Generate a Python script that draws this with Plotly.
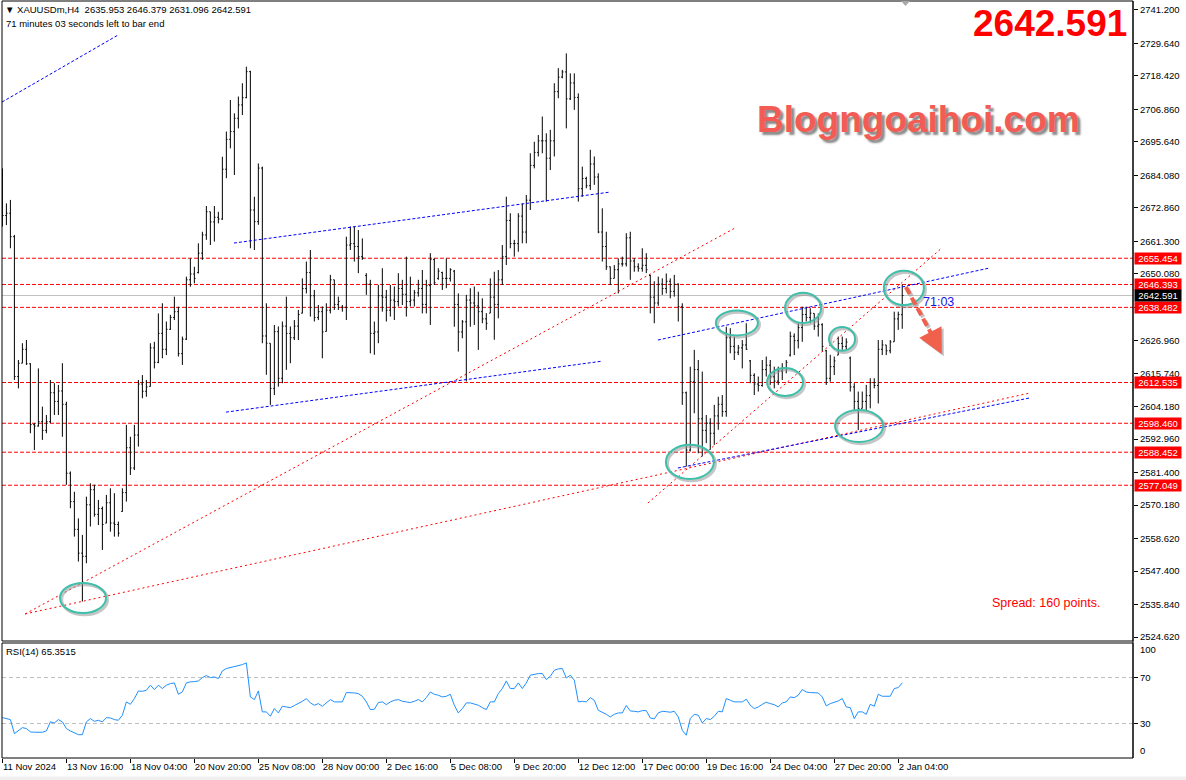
import plotly.graph_objects as go

# ---------------- data (XAUUSDm H4, bar index 0 = 11 Nov 2024 00:00) ----------------
tick_bars = [0, 16, 32, 48, 64, 80, 96, 112, 128, 144, 160, 176, 192, 208, 224]
tick_labels = ["11 Nov 2024", "13 Nov 16:00", "18 Nov 04:00", "20 Nov 20:00", "25 Nov 08:00",
               "28 Nov 00:00", "2 Dec 16:00", "5 Dec 08:00", "9 Dec 20:00", "12 Dec 12:00",
               "17 Dec 00:00", "19 Dec 16:00", "24 Dec 04:00", "27 Dec 20:00", "2 Jan 04:00"]

bar_open = [
    2684.0, 2670.2, 2671.0, 2662.9, 2614.6, 2619.2, 2624.0, 2619.0, 2598.0, 2597.5,
    2599.0, 2596.0, 2599.0, 2609.0, 2606.0, 2609.6, 2605.0, 2581.2, 2571.4, 2561.8,
    2553.6, 2552.5, 2570.3, 2575.5, 2567.0, 2569.0, 2564.0, 2571.0, 2564.0, 2563.5,
    2568.0, 2574.5, 2590.0, 2583.0, 2594.4, 2612.0, 2609.5, 2611.2, 2624.5, 2619.5,
    2629.5, 2624.0, 2630.9, 2635.0, 2637.0, 2622.5, 2627.5, 2648.0, 2650.0, 2650.5,
    2657.2, 2663.5, 2671.5, 2668.0, 2669.6, 2669.0, 2686.2, 2696.5, 2699.2, 2703.8,
    2708.4, 2710.9, 2719.9, 2672.1, 2668.1, 2686.6, 2628.6, 2626.1, 2610.5, 2630.1,
    2614.0, 2632.0, 2629.5, 2628.0, 2632.0, 2636.5, 2645.0, 2650.5, 2642.5, 2635.0,
    2637.0, 2630.2, 2637.5, 2648.0, 2639.5, 2638.5, 2638.5, 2660.0, 2660.5, 2659.5,
    2656.0, 2649.5, 2646.5, 2629.5, 2630.0, 2642.5, 2642.0, 2637.5, 2641.0, 2640.5,
    2645.0, 2643.0, 2640.5, 2641.0, 2643.5, 2645.0, 2639.5, 2646.0, 2655.0, 2648.5,
    2650.5, 2648.5, 2648.5, 2651.0, 2639.5, 2630.0, 2633.5, 2641.0, 2640.0, 2639.0,
    2637.0, 2634.5, 2636.5, 2642.0, 2639.5, 2648.0, 2656.0, 2668.5, 2660.5, 2660.5,
    2670.0, 2664.5, 2675.5, 2687.5, 2692.0, 2696.0, 2696.0, 2690.0, 2696.0, 2713.0,
    2718.0, 2719.8, 2710.5, 2716.0, 2711.0, 2679.5, 2683.0, 2680.5, 2688.0, 2683.5,
    2664.5, 2659.5, 2652.5, 2648.5, 2651.5, 2653.5, 2653.5, 2662.5, 2654.5, 2652.5,
    2652.0, 2653.0, 2649.5, 2642.0, 2640.0, 2646.5, 2645.0, 2647.5, 2644.0, 2646.5,
    2638.7, 2609.0, 2589.2, 2612.8, 2617.0, 2600.0, 2596.0, 2598.5, 2595.0, 2601.0,
    2605.0, 2602.5, 2628.0, 2625.0, 2623.0, 2624.5, 2625.5, 2620.0, 2615.0, 2612.0,
    2611.5, 2617.0, 2618.5, 2614.5, 2613.0, 2616.5, 2617.5, 2622.0, 2628.5, 2627.0,
    2631.5, 2636.0, 2635.0, 2636.4, 2632.0, 2632.5, 2623.5, 2614.0, 2618.0, 2622.0,
    2626.0, 2625.0, 2621.0, 2611.0, 2606.0, 2603.6, 2606.0, 2608.0, 2612.5, 2611.5,
    2624.0, 2625.5, 2623.5, 2626.6, 2634.5, 2635.953]

bar_high = [
    2686.5, 2674.4, 2675.6, 2663.5, 2620.3, 2626.1, 2627.2, 2619.2, 2598.5, 2617.4,
    2604.2, 2601.3, 2613.4, 2612.3, 2611.7, 2619.2, 2605.9, 2581.8, 2574.8, 2565.6,
    2559.9, 2573.1, 2577.7, 2577.2, 2572.0, 2569.7, 2573.7, 2576.0, 2574.3, 2564.5,
    2576.0, 2597.9, 2593.8, 2597.9, 2613.4, 2615.1, 2613.4, 2626.1, 2626.6, 2636.4,
    2639.9, 2633.6, 2635.9, 2642.2, 2638.7, 2628.4, 2649.1, 2655.4, 2652.5, 2660.6,
    2664.6, 2673.5, 2671.5, 2673.5, 2671.5, 2690.5, 2699.2, 2710.1, 2705.5, 2711.3,
    2715.9, 2721.6, 2720.2, 2676.7, 2688.2, 2687.1, 2639.9, 2626.1, 2632.4, 2631.9,
    2633.6, 2642.2, 2631.9, 2634.1, 2637.6, 2648.5, 2654.3, 2658.3, 2644.5, 2639.3,
    2638.8, 2639.9, 2649.7, 2648.0, 2642.2, 2639.3, 2662.9, 2666.4, 2666.4, 2665.2,
    2662.3, 2650.3, 2648.0, 2633.6, 2646.2, 2652.0, 2644.5, 2646.2, 2645.7, 2650.3,
    2648.0, 2656.0, 2649.1, 2644.5, 2648.0, 2651.4, 2648.0, 2657.2, 2655.4, 2652.0,
    2650.8, 2655.4, 2652.0, 2651.4, 2643.3, 2634.1, 2642.8, 2645.1, 2645.7, 2643.9,
    2641.6, 2636.5, 2648.5, 2650.8, 2651.4, 2660.0, 2676.7, 2671.0, 2661.8, 2671.0,
    2674.4, 2677.3, 2691.7, 2695.7, 2698.0, 2704.4, 2698.6, 2699.8, 2715.9, 2721.1,
    2720.5, 2726.2, 2719.3, 2719.3, 2712.4, 2687.1, 2683.6, 2692.9, 2690.6, 2684.8,
    2672.7, 2664.6, 2652.6, 2653.1, 2655.4, 2656.0, 2664.1, 2664.6, 2655.4, 2653.7,
    2658.9, 2657.2, 2649.7, 2647.5, 2649.1, 2648.5, 2650.2, 2648.5, 2649.7, 2646.8,
    2639.9, 2609.4, 2618.0, 2623.8, 2620.3, 2616.3, 2601.3, 2600.2, 2604.8, 2607.6,
    2608.2, 2631.8, 2631.3, 2628.4, 2625.5, 2627.2, 2633.0, 2620.3, 2615.7, 2614.6,
    2620.3, 2621.5, 2620.3, 2618.0, 2618.0, 2619.2, 2620.3, 2630.1, 2629.5, 2633.0,
    2638.7, 2638.7, 2638.2, 2636.4, 2636.4, 2633.0, 2623.8, 2622.1, 2621.5, 2628.4,
    2628.4, 2627.8, 2621.5, 2612.3, 2609.4, 2609.4, 2611.7, 2614.0, 2614.0, 2627.2,
    2627.2, 2625.5, 2627.2, 2637.0, 2637.0, 2646.379]

bar_low = [
    2666.4, 2666.9, 2658.9, 2613.4, 2610.5, 2619.2, 2618.6, 2595.0, 2589.2, 2597.3,
    2592.7, 2595.0, 2598.5, 2601.3, 2601.3, 2593.8, 2577.2, 2569.1, 2559.3, 2550.7,
    2536.9, 2550.1, 2562.8, 2566.2, 2563.3, 2554.7, 2563.9, 2561.0, 2559.3, 2559.3,
    2567.9, 2571.4, 2580.6, 2582.3, 2590.4, 2607.1, 2607.6, 2611.1, 2617.4, 2619.2,
    2620.9, 2622.0, 2630.7, 2634.1, 2621.5, 2618.6, 2627.2, 2645.6, 2646.8, 2650.2,
    2654.9, 2661.8, 2660.0, 2661.2, 2667.5, 2668.7, 2683.1, 2693.4, 2684.2, 2700.3,
    2704.9, 2710.7, 2658.9, 2658.3, 2667.0, 2626.1, 2615.2, 2604.8, 2608.2, 2611.1,
    2612.3, 2616.9, 2619.2, 2627.2, 2627.2, 2636.4, 2643.3, 2635.3, 2633.6, 2634.1,
    2620.9, 2630.1, 2636.4, 2637.6, 2637.6, 2637.0, 2634.1, 2658.3, 2654.3, 2650.3,
    2654.9, 2642.8, 2622.6, 2622.1, 2626.1, 2637.0, 2633.6, 2635.3, 2634.1, 2638.8,
    2639.3, 2635.3, 2638.8, 2638.8, 2642.2, 2636.4, 2636.4, 2632.4, 2646.2, 2648.0,
    2644.5, 2645.1, 2647.4, 2631.8, 2623.2, 2627.8, 2612.9, 2631.8, 2632.4, 2623.8,
    2633.0, 2630.7, 2636.5, 2627.3, 2634.7, 2646.2, 2653.1, 2658.9, 2656.0, 2657.7,
    2660.6, 2660.6, 2672.1, 2686.5, 2690.6, 2691.7, 2675.0, 2685.9, 2690.6, 2710.7,
    2717.6, 2700.3, 2710.1, 2706.7, 2675.0, 2676.7, 2679.6, 2679.0, 2680.8, 2664.1,
    2654.3, 2651.4, 2646.2, 2648.5, 2643.3, 2652.6, 2652.6, 2648.0, 2650.8, 2650.8,
    2650.8, 2650.3, 2636.4, 2633.0, 2639.0, 2642.8, 2643.3, 2641.6, 2642.2, 2633.6,
    2604.8, 2583.5, 2588.7, 2601.9, 2588.1, 2587.0, 2591.6, 2589.3, 2591.0, 2596.2,
    2600.7, 2600.7, 2622.6, 2620.3, 2622.0, 2617.4, 2623.8, 2612.3, 2608.2, 2609.4,
    2611.1, 2614.6, 2611.7, 2610.5, 2611.7, 2613.4, 2615.7, 2621.5, 2622.0, 2624.3,
    2626.6, 2633.6, 2633.0, 2630.7, 2628.4, 2623.2, 2611.7, 2612.8, 2615.1, 2622.0,
    2623.8, 2623.8, 2609.4, 2603.0, 2596.1, 2603.6, 2603.0, 2603.6, 2610.5, 2605.3,
    2622.0, 2622.0, 2622.6, 2626.6, 2630.7, 2631.096]

bar_close = [
    2670.2, 2671.0, 2662.9, 2614.6, 2619.2, 2624.0, 2619.0, 2598.0, 2597.5, 2599.0,
    2596.0, 2599.0, 2609.0, 2606.0, 2609.6, 2605.0, 2581.2, 2571.4, 2561.8, 2553.6,
    2552.5, 2570.3, 2575.5, 2567.0, 2569.0, 2563.5, 2571.0, 2564.0, 2563.5, 2560.5,
    2574.5, 2590.0, 2583.0, 2594.4, 2612.0, 2609.5, 2611.0, 2624.5, 2619.5, 2629.5,
    2624.0, 2630.9, 2635.0, 2637.0, 2622.5, 2627.5, 2648.0, 2650.0, 2648.5, 2657.2,
    2663.5, 2671.5, 2668.0, 2669.6, 2669.0, 2686.2, 2696.5, 2699.2, 2703.8, 2708.4,
    2710.9, 2719.9, 2672.1, 2668.1, 2686.6, 2628.6, 2626.1, 2610.5, 2630.1, 2614.0,
    2632.0, 2629.5, 2628.0, 2632.0, 2636.0, 2645.0, 2650.5, 2642.5, 2635.0, 2637.0,
    2630.0, 2637.5, 2648.0, 2639.5, 2640.5, 2638.5, 2660.0, 2660.5, 2659.5, 2656.0,
    2655.5, 2646.5, 2629.5, 2630.0, 2642.5, 2642.0, 2637.5, 2641.0, 2640.5, 2645.0,
    2643.0, 2640.5, 2641.0, 2643.5, 2645.0, 2639.5, 2646.0, 2655.0, 2647.0, 2651.0,
    2648.5, 2648.5, 2651.5, 2639.5, 2630.0, 2633.5, 2641.0, 2640.0, 2639.0, 2637.0,
    2634.5, 2633.0, 2642.0, 2639.5, 2648.0, 2656.0, 2668.5, 2660.5, 2660.5, 2670.0,
    2664.5, 2675.5, 2687.5, 2692.0, 2696.0, 2696.0, 2690.0, 2696.0, 2713.0, 2718.0,
    2719.8, 2710.5, 2716.0, 2711.0, 2679.5, 2683.0, 2680.5, 2688.0, 2683.5, 2664.5,
    2659.5, 2652.5, 2648.5, 2651.5, 2653.5, 2653.5, 2662.5, 2654.5, 2652.5, 2652.0,
    2653.0, 2651.5, 2642.0, 2640.0, 2646.5, 2645.0, 2647.5, 2644.0, 2646.5, 2638.7,
    2609.0, 2589.2, 2612.8, 2617.0, 2600.0, 2596.0, 2598.5, 2595.0, 2601.0, 2605.0,
    2602.5, 2628.0, 2625.0, 2623.0, 2624.5, 2625.5, 2624.0, 2615.0, 2612.0, 2611.5,
    2617.0, 2618.5, 2614.5, 2613.0, 2616.5, 2617.5, 2619.5, 2628.5, 2627.0, 2631.5,
    2636.0, 2635.0, 2636.5, 2632.0, 2632.5, 2625.0, 2614.0, 2618.0, 2620.0, 2626.0,
    2625.0, 2626.5, 2611.0, 2606.0, 2603.6, 2606.0, 2608.0, 2612.5, 2611.5, 2624.0,
    2625.5, 2623.5, 2626.5, 2634.5, 2636.0, 2642.591]

rsi14 = [
    35.1, 34.5, 33.4, 21.2, 24.1, 26.4, 25.6, 22.7, 22.4, 22.4,
    22.4, 23.5, 31.4, 30.5, 33.4, 31.4, 25.6, 23.5, 21.8, 20.3,
    20.3, 31.4, 34.3, 31.9, 32.8, 31.4, 35.1, 34.8, 33.4, 32.8,
    37.2, 48.8, 46.7, 51.7, 58.3, 58.0, 58.9, 63.3, 59.5, 63.3,
    60.4, 63.3, 64.7, 65.3, 55.4, 57.5, 65.3, 66.2, 66.4, 67.0,
    69.9, 71.7, 69.9, 70.5, 69.1, 75.7, 77.8, 78.6, 79.2, 79.8,
    81.2, 82.7, 53.1, 50.8, 58.3, 40.1, 40.1, 36.3, 43.0, 39.2,
    45.0, 44.4, 43.8, 45.6, 47.3, 49.3, 51.7, 47.9, 45.9, 47.3,
    45.0, 47.9, 50.8, 48.8, 49.0, 48.8, 56.9, 56.9, 56.6, 56.0,
    53.7, 48.8, 42.1, 42.4, 48.2, 48.8, 46.4, 48.8, 50.2, 50.8,
    49.3, 48.8, 48.2, 49.3, 50.8, 48.8, 52.5, 57.4, 55.4, 54.6,
    53.1, 53.7, 55.4, 45.9, 39.2, 43.0, 47.9, 47.9, 46.7, 45.9,
    43.8, 42.1, 48.8, 48.8, 56.0, 60.4, 67.0, 60.4, 60.4, 65.3,
    60.4, 65.3, 72.0, 72.8, 73.4, 73.4, 68.2, 71.1, 76.3, 77.5,
    77.8, 69.6, 72.0, 67.6, 48.8, 49.3, 48.8, 52.5, 50.2, 41.5,
    40.1, 38.0, 35.7, 38.0, 39.2, 39.2, 45.6, 40.9, 40.6, 40.1,
    41.2, 41.2, 34.8, 34.0, 39.2, 40.6, 40.3, 39.8, 40.6, 35.7,
    24.1, 19.8, 34.3, 38.0, 37.2, 30.5, 34.3, 33.4, 36.3, 40.6,
    40.1, 51.7, 50.2, 48.8, 48.8, 48.8, 51.1, 45.9, 43.0, 44.4,
    46.7, 48.5, 47.3, 46.4, 44.4, 47.9, 48.8, 53.1, 52.5, 54.6,
    59.5, 57.4, 56.9, 56.9, 56.6, 53.1, 45.3, 47.3, 48.2, 49.6,
    51.7, 44.4, 43.8, 34.3, 40.1, 40.1, 38.0, 46.7, 45.0, 55.4,
    53.7, 54.0, 53.7, 60.4, 61.2, 65.35]

price_ticks = [2741.2, 2729.64, 2718.42, 2706.86, 2695.64, 2684.08, 2672.86, 2661.3, 2650.08,
               2638.52, 2626.96, 2615.74, 2604.18, 2592.96, 2581.4, 2570.18, 2558.62, 2547.4,
               2535.84, 2524.62]
levels = [2655.454, 2646.393, 2638.482, 2612.535, 2598.460, 2588.452, 2577.049]
bid_price = 2642.591
rsi_levels = [70, 30]

# trendlines anchored by (bar index, price)
blue_lines = [((-0.1, 2709.4), (29.0, 2732.6)),
              ((57.9, 2660.7), (151.9, 2678.3)),
              ((55.9, 2602.3), (149.9, 2619.9)),
              ((163.9, 2627.2), (246.9, 2652.1)),
              ((168.9, 2583.0), (256.9, 2607.2))]
red_lines = [((5.7, 2532.6), (183.2, 2665.9)),
             ((5.7, 2532.6), (256.9, 2608.9)),
             ((161.4, 2570.9), (234.9, 2659.0))]
# ellipses: (bar0, bar1, price0, price1)
ellipses = [(14.4, 25.9, 2532.9, 2543.3),
            (165.9, 177.9, 2579.2, 2591.0),
            (178.4, 188.9, 2628.8, 2637.4),
            (195.7, 204.7, 2633.1, 2643.5),
            (191.2, 200.2, 2607.9, 2617.5),
            (206.7, 213.2, 2623.5, 2631.7),
            (208.2, 220.2, 2592.0, 2603.0),
            (220.4, 230.4, 2639.3, 2651.1)]
arrow_tail = (225.9, 2645.5)
arrow_mid = (232.3, 2629.3)
arrow_tip = (234.9, 2622.3)

# ---------------- layout helpers ----------------
FONT = "Liberation Sans, Arial, sans-serif"
W, H = 1186, 780
PL, PR, PT, PB = 2, 1133, 1, 758


def px(v):
    return (v - PL) / (PR - PL)


def py(v):
    return (PB - v) / (PB - PT)


bars = list(range(len(bar_close)))

fig = go.Figure()
fig.add_trace(go.Ohlc(
    x=bars, open=bar_open, high=bar_high, low=bar_low, close=bar_close,
    increasing=dict(line=dict(color="black", width=1)),
    decreasing=dict(line=dict(color="black", width=1)),
    tickwidth=0.3, xaxis="x", yaxis="y", hoverinfo="skip", showlegend=False))
fig.add_trace(go.Scatter(
    x=bars, y=rsi14, mode="lines", line=dict(color="#1e90ff", width=1),
    xaxis="x", yaxis="y2", hoverinfo="skip", showlegend=False))

shapes = []
for lv in levels:
    shapes.append(dict(type="line", xref="x domain", x0=0, x1=1, yref="y", y0=lv, y1=lv,
                       line=dict(color="#ff0000", width=1, dash="4px,2px"), layer="below"))
shapes.append(dict(type="line", xref="x domain", x0=0, x1=1, yref="y", y0=bid_price, y1=bid_price,
                   line=dict(color="#c0c0c0", width=1), layer="below"))
for lv in rsi_levels:
    shapes.append(dict(type="line", xref="x domain", x0=0, x1=1, yref="y2", y0=lv, y1=lv,
                       line=dict(color="#c0c0c0", width=1, dash="4px,3px"), layer="below"))
for (a, b) in red_lines:
    shapes.append(dict(type="line", xref="x", yref="y", x0=a[0], y0=a[1], x1=b[0], y1=b[1],
                       line=dict(color="#ff0000", width=1, dash="2px,3px")))
for (a, b) in blue_lines:
    shapes.append(dict(type="line", xref="x", yref="y", x0=a[0], y0=a[1], x1=b[0], y1=b[1],
                       line=dict(color="#0000ff", width=1, dash="3px,2px")))
for (x0, x1, y0, y1) in ellipses:
    shapes.append(dict(type="circle", xref="x", yref="y", x0=x0 + 0.4, x1=x1 + 0.4,
                       y0=y0 - 0.6, y1=y1 - 0.6, line=dict(color="rgba(150,150,150,0.55)", width=3)))
    shapes.append(dict(type="circle", xref="x", yref="y", x0=x0, x1=x1, y0=y0, y1=y1,
                       line=dict(color="#3fbfa9", width=2)))
# dashed arrow shaft (with soft shadow)
shapes.append(dict(type="line", xref="x", yref="y", x0=arrow_tail[0] + 0.5, y0=arrow_tail[1] - 0.7,
                   x1=arrow_mid[0] + 0.5, y1=arrow_mid[1] - 0.7,
                   line=dict(color="rgba(150,150,150,0.6)", width=4, dash="8px,4px")))
shapes.append(dict(type="line", xref="x", yref="y", x0=arrow_tail[0], y0=arrow_tail[1],
                   x1=arrow_mid[0], y1=arrow_mid[1],
                   line=dict(color="#f0604c", width=4, dash="8px,4px")))
# pane frames
shapes.append(dict(type="rect", xref="x domain", yref="y domain", x0=0, x1=1, y0=0, y1=1,
                   line=dict(color="black", width=1)))
shapes.append(dict(type="rect", xref="x domain", yref="y2 domain", x0=0, x1=1, y0=0, y1=1,
                   line=dict(color="black", width=1)))
shapes.append(dict(type="line", xref="paper", yref="paper", x0=1, x1=1, y0=0, y1=1,
                   line=dict(color="black", width=1)))
# bottom status strip and chart-shift marker
shapes.append(dict(type="rect", xref="paper", yref="paper", x0=px(0), x1=px(W), y0=py(H), y1=py(776.5),
                   line=dict(width=0), fillcolor="#f0f0f0"))
shapes.append(dict(type="path", xref="paper", yref="paper",
                   path=f"M {px(901)} {py(1)} L {px(910)} {py(1)} L {px(905.5)} {py(6)} Z",
                   fillcolor="#a8a8a8", line=dict(width=0)))

ann = []
# axis price labels
for lv in levels:
    ann.append(dict(xref="paper", x=1, xanchor="left", xshift=1, yref="y", y=lv, yanchor="middle",
                    text=f"{lv:.3f}", showarrow=False, bgcolor="#ff0000", borderpad=1,
                    width=44, height=9, font=dict(color="white", size=9.5, family=FONT)))
ann.append(dict(xref="paper", x=1, xanchor="left", xshift=1, yref="y", y=bid_price, yanchor="middle",
                text=f"{bid_price:.3f}", showarrow=False, bgcolor="black", borderpad=1,
                width=44, height=9, font=dict(color="white", size=9.5, family=FONT)))
# header
ann.append(dict(xref="paper", yref="paper", x=px(3), y=py(9), xanchor="left", yanchor="middle",
                text="\u25bc XAUUSDm,H4\u00a0\u00a02635.953 2646.379 2631.096 2642.591",
                showarrow=False, font=dict(size=9.5, family=FONT, color="black")))
ann.append(dict(xref="paper", yref="paper", x=px(4), y=py(23), xanchor="left", yanchor="middle",
                text="71 minutes 03 seconds left to bar end",
                showarrow=False, font=dict(size=9.5, family=FONT, color="black")))
ann.append(dict(xref="paper", yref="paper", x=px(4), y=py(651), xanchor="left", yanchor="middle",
                text="RSI(14) 65.3515", showarrow=False, font=dict(size=9.5, family=FONT, color="black")))
ann.append(dict(xref="paper", yref="paper", x=1, xshift=5, y=py(649), xanchor="left", yanchor="middle",
                text="100", showarrow=False, font=dict(size=9.5, family=FONT, color="black")))
ann.append(dict(xref="paper", yref="paper", x=1, xshift=5, y=py(750), xanchor="left", yanchor="middle",
                text="0", showarrow=False, font=dict(size=9.5, family=FONT, color="black")))
# big price and watermark
ann.append(dict(xref="paper", yref="paper", x=px(1129), y=py(23.5), xanchor="right", yanchor="middle",
                text="<b>2642.591</b>", showarrow=False, font=dict(size=37, family=FONT, color="#ff0000")))
ann.append(dict(xref="paper", yref="paper", x=px(755), y=py(119), xanchor="left", yanchor="middle",
                text="<b>Blogngoaihoi.com</b>", showarrow=False,
                font=dict(size=37, family=FONT, color="#f25c54",
                          shadow="3px 3px 2px rgba(110,110,110,0.8)")))
ann.append(dict(xref="paper", yref="paper", x=px(990), y=py(603), xanchor="left", yanchor="middle",
                text="Spread: 160 points.", showarrow=False, font=dict(size=12.5, family=FONT, color="#ff0000")))
ann.append(dict(xref="paper", yref="paper", x=px(921), y=py(302), xanchor="left", yanchor="middle",
                text="71:03", showarrow=False, font=dict(size=12.5, family=FONT, color="#1414e6")))
# arrow head (shadow + head)
ann.append(dict(xref="x", yref="y", x=arrow_tip[0] + 0.5, y=arrow_tip[1] - 0.7, axref="x", ayref="y",
                ax=arrow_mid[0] + 0.5, ay=arrow_mid[1] - 0.7, text="", showarrow=True,
                arrowhead=2, arrowsize=1.25, arrowwidth=4, arrowcolor="rgba(150,150,150,0.6)"))
ann.append(dict(xref="x", yref="y", x=arrow_tip[0], y=arrow_tip[1], axref="x", ayref="y",
                ax=arrow_mid[0], ay=arrow_mid[1], text="", showarrow=True,
                arrowhead=2, arrowsize=1.25, arrowwidth=4, arrowcolor="#f0604c"))

fig.update_layout(
    width=W, height=H,
    margin=dict(l=PL, r=W - PR, t=PT, b=H - PB, pad=0, autoexpand=False),
    paper_bgcolor="white", plot_bgcolor="white", showlegend=False,
    font=dict(family=FONT, size=9.5, color="black"),
    xaxis=dict(range=[-0.1, 282.7], tickvals=tick_bars, ticktext=tick_labels, tickangle=0,
               ticks="outside", ticklen=4, tickcolor="black", ticklabelposition="outside right",
               showgrid=False, zeroline=False, showline=False, anchor="y2", automargin=False,
               rangeslider=dict(visible=False), tickfont=dict(size=9.5, family=FONT)),
    yaxis=dict(domain=[py(641), 1], range=[2523.25, 2744.3], side="right",
               tickvals=price_ticks, ticktext=[f"{v:.3f}" for v in price_ticks], automargin=False,
               ticks="outside", ticklen=4, tickcolor="black", showgrid=False, zeroline=False,
               showline=False, anchor="x", tickfont=dict(size=9.5, family=FONT)),
    yaxis2=dict(domain=[0, py(643)], range=[0, 100], side="right", automargin=False,
                tickvals=rsi_levels, ticktext=[str(v) for v in rsi_levels],
                ticks="outside", ticklen=4, tickcolor="black", showgrid=False, zeroline=False,
                showline=False, anchor="x", tickfont=dict(size=9.5, family=FONT)),
    shapes=shapes, annotations=ann,
)

fig.write_html("out.html", config={"displayModeBar": False},
               post_script="document.body.style.margin='0';document.body.style.overflow='hidden';")
